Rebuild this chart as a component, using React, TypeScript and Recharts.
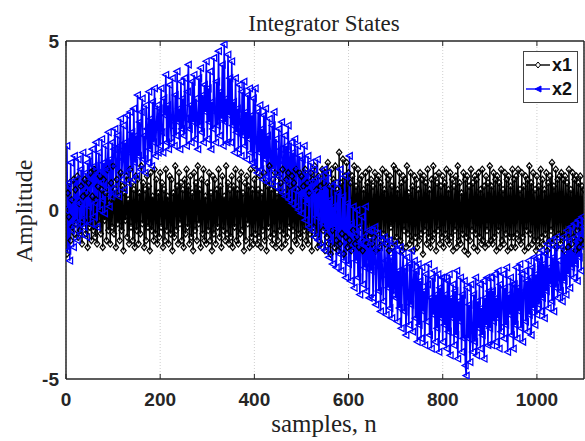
import React from 'react';
import { LineChart, Line, XAxis, YAxis, CartesianGrid, ReferenceLine, Legend } from 'recharts';

const title = 'Integrator States';
const xLabel = 'samples, n';
const yLabel = 'Amplitude';
const seriesNames = ['x1', 'x2'];
const xTicks = [0, 200, 400, 600, 800, 1000];
const yTicks = [-5, 0, 5];
const xDomain = [0, 1100];
const yDomain = [-5, 5];

// sample index n, every 2 samples from 0 to 1100
const sampleIndex: number[] = Array.from({ length: 551 }, (_, i) => i * 2);

const x1Values = [
  0.0, -1.3, 0.5, -0.2, 0.8, -0.9, 0.3, -0.5, 0.9, -0.7, 0.6, -0.4, 1.0, -0.8, 0.2, -0.6, 0.7, -1.0, 0.4, -0.3, 0.9, -0.7, 0.5, -1.1, 0.8,
  -0.5, 1.1, -0.9, 0.4, -0.6, 1.2, -0.8, 0.3, -1.0, 0.7, -0.4, 1.0, -0.7, 0.6, -1.1, 0.9, -0.3, 0.5, -0.9, 1.2, -0.6, 0.2, -1.0, 0.8, -0.5,
  1.3, -0.7, 0.6, -1.1, 0.9, -0.4, 0.4, -0.9, 1.1, -0.6, 0.7, -1.2, 0.5, -0.3, 1.0, -0.8, 0.3, -1.0, 1.2, -0.5, 0.8, -0.9, 0.6, -1.1, 1.0,
  -0.6, 0.9, -1.0, 0.5, -0.7, 1.3, -0.4, 0.8, -1.1, 0.6, -0.9, 1.0, -0.5, 0.7, -1.2, 1.1, -0.6, 0.4, -0.9, 1.2, -0.7, 0.9, -1.0, 0.5, -0.8,
  1.1, -0.5, 0.8, -1.1, 0.6, -0.9, 1.2, -0.6, 0.4, -1.0, 1.0, -0.7, 0.9, -1.2, 0.5, -0.8, 1.3, -0.6, 0.7, -1.0, 1.1, -0.4, 0.8, -0.9, 0.6,
  -1.1, 0.9, -0.7, 1.2, -0.5, 0.7, -1.0, 1.0, -0.8, 0.5, -1.2, 1.1, -0.6, 0.8, -0.9, 1.3, -0.4, 0.6, -1.1, 0.9, -0.7, 1.2, -0.9, 0.4, -1.0,
  0.8, -0.6, 1.1, -0.9, 0.5, -1.2, 1.0, -0.7, 0.9, -1.0, 0.6, -0.5, 1.2, -0.8, 0.7, -1.1, 1.0, -0.6, 0.4, -0.9, 1.3, -0.7, 0.8, -1.0, 0.6,
  -0.8, 1.0, -1.1, 0.7, -0.5, 1.2, -0.9, 0.6, -1.0, 0.9, -0.7, 1.1, -0.6, 0.5, -1.2, 0.8, -0.9, 1.0, -0.4, 0.7, -1.1, 1.2, -0.8, 0.6, -1.0,
  0.9, -0.7, 1.2, -1.0, 0.6, -0.8, 1.0, -1.1, 0.5, -0.6, 1.1, -0.9, 0.8, -1.2, 0.7, -0.5, 1.3, -0.8, 0.6, -1.0, 0.9, -0.7, 1.1, -1.1, 0.5,
  -0.9, 1.0, -0.6, 0.8, -1.1, 1.2, -0.7, 0.5, -1.0, 0.9, -0.8, 1.1, -0.5, 0.7, -1.2, 1.0, -0.6, 0.8, -0.9, 1.2, -1.0, 0.6, -0.7, 1.1, -0.8,
  1.0, -1.1, 0.7, -0.6, 1.2, -0.9, 0.8, -1.0, 0.5, -0.7, 1.1, -1.2, 0.9, -0.5, 1.3, -0.8, 0.6, -1.1, 1.0, -0.9, 0.7, -1.0, 1.2, -0.6, 0.8,
  -1.2, 1.1, -0.8, 1.4, -1.0, 0.7, -1.3, 1.2, -0.6, 0.9, -1.1, 1.3, -0.9, 0.6, -1.2, 1.7, -1.0, 0.8, -0.7, 1.5, -1.3, 1.0, -0.8, 1.4, -1.1,
  1.1, -0.9, 0.8, -1.2, 1.0, -0.6, 1.3, -1.0, 0.7, -0.8, 1.2, -1.1, 0.9, -0.5, 1.0, -1.2, 0.6, -0.9, 1.1, -0.7, 0.8, -1.0, 1.2, -0.8, 0.9,
  -1.0, 0.7, -0.8, 1.1, -1.2, 0.9, -0.6, 1.0, -1.1, 0.8, -0.9, 1.2, -0.7, 0.6, -1.0, 1.1, -0.8, 0.9, -1.2, 1.0, -0.5, 0.7, -1.1, 1.3, -0.9,
  1.2, -0.8, 0.6, -1.0, 1.1, -0.9, 0.8, -1.2, 1.0, -0.6, 0.9, -1.1, 1.3, -0.7, 0.5, -1.0, 1.1, -0.9, 0.7, -1.2, 1.0, -0.8, 0.9, -1.1, 0.6,
  -0.9, 1.1, -0.7, 0.9, -1.3, 1.0, -0.6, 0.8, -1.0, 1.2, -0.8, 0.6, -1.1, 0.9, -0.9, 1.3, -0.7, 1.0, -1.2, 0.8, -0.6, 1.1, -1.0, 0.7, -0.8,
  1.0, -1.1, 0.8, -0.7, 1.2, -0.9, 0.6, -1.0, 1.1, -0.8, 0.9, -1.2, 0.7, -0.6, 1.0, -1.1, 1.3, -0.9, 0.8, -1.0, 0.5, -0.7, 1.1, -1.2, 0.9,
  -0.8, 1.0, -1.3, 0.7, -0.9, 1.2, -0.6, 0.8, -1.1, 1.0, -0.7, 0.9, -1.2, 1.1, -0.8, 0.6, -1.0, 1.2, -0.9, 0.7, -1.1, 1.0, -0.6, 0.8, -1.0,
  1.3, -0.9, 0.7, -1.0, 1.1, -0.8, 0.9, -1.2, 1.0, -0.6, 0.8, -1.1, 1.2, -0.9, 0.6, -1.0, 1.1, -0.7, 0.9, -1.2, 1.0, -0.8, 0.7, -1.1, 1.2,
  -0.8, 0.9, -1.1, 1.0, -0.7, 1.2, -0.9, 0.6, -1.0, 1.1, -0.8, 0.7, -1.2, 1.0, -0.6, 0.9, -1.1, 1.3, -0.7, 0.8, -1.0, 1.1, -0.9, 0.6, -1.2,
  1.0, -0.9, 0.7, -1.1, 1.2, -0.8, 0.9, -1.0, 0.6, -0.7, 1.1, -1.2, 0.8, -0.9, 1.0, -0.6, 1.4, -1.0, 0.7, -0.8, 1.2, -1.1, 0.9, -0.7, 1.0,
  -1.0, 1.1, -0.8, 0.9, -1.2, 1.0, -0.7, 0.8, -1.1, 1.2, -0.9, 0.6, -1.0, 1.1, -0.8, 0.9, -1.2, 1.0, -0.6, 0.8, -1.1, 1.0, -0.9, 0.7, -1.0,
  0.6,
];

const x2Values = [
  0.0, 1.9, -1.2, 0.8, -1.5, 1.4, -0.6, 0.3, -1.1, 1.6, -0.4, 0.9, -0.9, 1.5, 0.2, -0.7, 1.2, -0.3, 1.7, -0.5, 0.6, 1.1, -0.8, 1.4, 0.1,
  1.6, -0.4, 0.9, 1.8, -0.2, 1.3, 0.2, 2.0, -0.5, 1.1, 1.7, 0.0, 0.8, 2.1, 0.3, 1.4, -0.1, 1.9, 0.6, 1.2, 2.3, 0.1, 1.5, 0.4, 2.0,
  0.5, 1.8, 2.4, 0.7, 1.3, 2.2, 0.4, 1.9, 2.7, 0.9, 1.5, 2.5, 0.6, 2.0, 1.1, 2.8, 0.8, 1.7, 2.9, 1.2, 2.3, 0.9, 3.0, 1.4, 2.2,
  1.0, 3.4, 1.6, 2.6, 1.2, 2.9, 3.3, 1.5, 2.2, 1.1, 3.1, 2.4, 1.4, 3.5, 1.8, 2.7, 1.3, 3.2, 2.0, 3.6, 1.6, 2.5, 3.1, 1.7, 3.0,
  1.9, 3.6, 2.3, 1.7, 3.3, 2.8, 4.0, 2.0, 3.1, 1.8, 3.7, 2.5, 2.0, 3.9, 2.7, 1.9, 3.4, 2.2, 4.1, 2.6, 3.0, 1.8, 3.8, 2.4, 3.3,
  2.2, 3.9, 2.7, 1.9, 3.5, 4.3, 2.4, 3.1, 2.0, 3.8, 2.6, 4.0, 2.1, 3.3, 2.8, 1.8, 3.9, 2.5, 4.2, 2.3, 3.4, 2.0, 3.7, 2.9, 4.4,
  2.1, 3.6, 2.6, 4.1, 1.8, 3.2, 2.4, 4.5, 2.9, 2.0, 3.8, 2.5, 4.7, 2.2, 3.5, 2.7, 4.3, 1.9, 4.9, 2.6, 3.3, 2.0, 4.6, 2.8, 3.9,
  2.0, 4.4, 2.5, 3.2, 1.7, 3.9, 2.3, 3.0, 1.8, 3.7, 2.6, 1.6, 3.5, 2.2, 3.8, 1.9, 2.9, 1.5, 3.4, 2.1, 3.6, 1.7, 2.8, 1.4, 3.3,
  1.3, 3.6, 2.0, 1.1, 2.9, 1.7, 3.1, 1.2, 2.4, 0.9, 2.8, 1.5, 3.0, 1.0, 2.2, 0.8, 2.7, 1.6, 0.9, 2.5, 1.2, 2.9, 0.7, 2.1, 1.4,
  1.0, 2.4, 0.6, 1.8, 2.6, 0.5, 1.4, 2.2, 0.4, 1.9, 0.8, 2.5, 0.3, 1.5, 2.0, 0.2, 1.7, 0.6, 2.1, 0.1, 1.3, 1.9, 0.0, 1.6, 0.5,
  -0.1, 1.5, 0.4, 1.9, -0.3, 1.1, 0.2, 1.6, -0.5, 0.8, 1.4, -0.6, 0.5, 1.2, -0.8, 0.9, -0.2, 1.5, -0.9, 0.4, 1.0, -1.1, 0.6, -0.4, 1.2,
  -1.2, 0.9, -0.6, 1.1, -1.4, 0.3, -0.9, 0.7, -1.6, 0.1, -0.5, 0.8, -1.7, -0.2, 0.5, -1.3, 1.2, -1.8, -0.4, 0.4, -1.5, 1.0, -2.0, -0.3, 0.2,
  -1.6, 1.6, -2.1, -0.4, -1.2, 0.1, -2.3, -0.7, -1.5, 0.0, -2.0, -0.5, -2.5, -1.0, -0.2, -2.2, -0.8, -1.7, 0.1, -2.4, -1.1, -0.6, -2.6, -0.9, -1.8,
  -0.6, -2.6, -1.2, -0.5, -2.8, -1.6, -0.7, -2.4, -1.1, -3.0, -0.9, -1.9, -2.7, -0.8, -1.5, -3.1, -1.0, -2.3, -0.9, -2.9, -1.4, -3.2, -1.2, -2.5, -1.0,
  -2.6, -1.2, -3.3, -1.8, -2.9, -1.1, -3.5, -2.0, -1.3, -3.0, -1.7, -3.7, -1.4, -2.5, -3.4, -1.6, -2.8, -1.2, -3.6, -2.1, -1.5, -3.2, -1.8, -3.9, -1.6,
  -3.4, -2.1, -3.8, -1.7, -3.0, -2.4, -4.0, -1.9, -3.3, -2.2, -1.6, -3.7, -2.6, -4.1, -2.0, -3.1, -1.8, -3.9, -2.5, -3.5, -1.9, -4.2, -2.3, -3.2, -2.0,
  -3.9, -2.0, -3.4, -2.5, -4.1, -2.1, -3.6, -1.9, -4.3, -2.6, -3.2, -2.2, -4.0, -2.4, -3.7, -1.8, -4.4, -2.7, -3.3, -2.0, -4.2, -2.5, -3.8, -2.1, -4.6,
  -4.9, -2.3, -3.8, -2.8, -4.5, -2.2, -3.6, -4.2, -2.5, -3.9, -2.0, -4.3, -2.7, -3.5, -2.2, -4.1, -2.9, -3.7, -2.1, -4.4, -2.6, -3.4, -2.0, -4.0, -2.4,
  -3.5, -2.0, -4.0, -2.4, -3.3, -1.9, -3.9, -2.6, -3.2, -1.8, -4.1, -2.2, -3.6, -2.8, -1.9, -3.8, -2.3, -3.4, -1.7, -4.2, -2.5, -3.1, -2.0, -3.7, -2.2,
  -4.1, -2.2, -3.4, -1.7, -3.8, -2.3, -3.0, -1.6, -3.5, -1.9, -3.9, -2.4, -1.8, -3.3, -2.1, -3.6, -1.5, -3.1, -2.0, -3.7, -1.7, -2.9, -1.4, -3.4, -1.9,
  -3.1, -1.4, -2.8, -1.5, -3.0, -1.2, -2.6, -1.6, -3.2, -1.3, -2.4, -1.0, -2.9, -1.7, -2.2, -0.9, -2.7, -1.4, -3.0, -1.1, -2.3, -0.8, -2.6, -1.5, -2.0,
  -2.4, -1.1, -2.7, -0.8, -2.1, -1.3, -2.5, -0.6, -1.9, -0.9, -2.3, -0.5, -1.7, -1.2, -2.0, -0.4, -1.6, -0.8, -2.1, -0.3, -1.4, -0.7, -1.8, -0.2, -1.1,
  -0.5,
];

const data = sampleIndex.map((n, i) => ({ n, x1: x1Values[i], x2: x2Values[i] }));

const W = 585;
const H = 441;
const margin = { top: 40, right: 0, bottom: 61, left: 65 };
const tickFont = '"Liberation Sans", Arial, sans-serif';
const serifFont = '"Liberation Serif", "Times New Roman", serif';
const axisStroke = { stroke: '#262626', strokeWidth: 1.5 };

const Diamond = (props: any) => {
  const { cx, cy, index } = props;
  if (cx == null || cy == null) return <g key={`d${index}`} />;
  return (
    <path
      key={`d${index}`}
      d={`M${cx},${cy - 3.3} L${cx + 2.7},${cy} L${cx},${cy + 3.3} L${cx - 2.7},${cy} Z`}
      fill="none"
      stroke="#000"
      strokeWidth={1.2}
    />
  );
};

const TriLeft = (props: any) => {
  const { cx, cy, index } = props;
  if (cx == null || cy == null) return <g key={`t${index}`} />;
  return (
    <path
      key={`t${index}`}
      d={`M${cx - 3.3},${cy} L${cx + 2.8},${cy - 3.3} L${cx + 2.8},${cy + 3.3} Z`}
      fill="none"
      stroke="#0000ff"
      strokeWidth={1.3}
    />
  );
};

const XTick = (props: any) => {
  const { x, y, payload } = props;
  return (
    <text x={x} y={y + 25} textAnchor="middle" fontFamily={tickFont} fontWeight="bold" fontSize={19} fill="#262626">
      {payload.value}
    </text>
  );
};

const YTick = (props: any) => {
  const { x, y, payload } = props;
  return (
    <text x={x - 5} y={y + 7} textAnchor="end" fontFamily={tickFont} fontWeight="bold" fontSize={19} fill="#262626">
      {payload.value}
    </text>
  );
};

const LegendBox = (props: any) => {
  const { payload } = props;
  const items = (payload || []).filter((p: any) => seriesNames.includes(p.value));
  return (
    <div
      style={{
        border: '1.5px solid #444',
        background: '#fff',
        width: 55,
        height: 52,
        boxSizing: 'border-box',
        paddingTop: 1,
      }}
    >
      {items.map((p: any, i: number) => (
        <div key={p.value} style={{ display: 'flex', alignItems: 'center', height: 24 }}>
          <svg width={26} height={12} style={{ marginLeft: 2 }}>
            <line x1={0} y1={6} x2={24} y2={6} stroke={p.color} strokeWidth={1.4} />
            {i === 0 ? (
              <path d="M12,3 L14.5,6 L12,9 L9.5,6 Z" fill="#fff" stroke={p.color} strokeWidth={1} />
            ) : (
              <path d="M9,6 L15,3 L15,9 Z" fill={p.color} stroke={p.color} strokeWidth={1} />
            )}
          </svg>
          <span style={{ fontFamily: tickFont, fontWeight: 'bold', fontSize: 18, color: '#111', lineHeight: '18px' }}>
            {p.value}
          </span>
        </div>
      ))}
    </div>
  );
};

export default function App() {
  return (
    <div style={{ position: 'absolute', left: 0, top: 0, width: W, height: H, background: '#fff' }}>
      <LineChart width={W} height={H} data={data} margin={margin}>
        <CartesianGrid horizontal={false} stroke="#cfcfcf" strokeDasharray="1 2" />
        <XAxis
          dataKey="n"
          type="number"
          domain={xDomain}
          ticks={xTicks}
          allowDataOverflow
          height={1}
          tickSize={0}
          tickLine={false}
          tick={<XTick />}
          axisLine={axisStroke}
        />
        <XAxis
          xAxisId="top"
          orientation="top"
          dataKey="n"
          type="number"
          domain={xDomain}
          ticks={xTicks}
          height={1}
          tick={false}
          tickLine={false}
          axisLine={axisStroke}
        />
        <YAxis
          type="number"
          domain={yDomain}
          ticks={yTicks}
          allowDataOverflow
          width={1}
          tickSize={0}
          tickLine={false}
          tick={<YTick />}
          axisLine={axisStroke}
        />
        <YAxis
          yAxisId="right"
          orientation="right"
          type="number"
          domain={yDomain}
          width={1}
          tick={false}
          tickLine={false}
          axisLine={axisStroke}
        />
        {xTicks.map((t) => (
          <ReferenceLine
            key={`bt${t}`}
            segment={[{ x: t, y: -5 }, { x: t, y: -4.85 }]}
            stroke="#262626"
            strokeWidth={1}
            ifOverflow="visible"
          />
        ))}
        {xTicks.map((t) => (
          <ReferenceLine
            key={`tt${t}`}
            segment={[{ x: t, y: 5 }, { x: t, y: 4.85 }]}
            stroke="#262626"
            strokeWidth={1}
            ifOverflow="visible"
          />
        ))}
        <Line
          dataKey="x1"
          name="x1"
          stroke="#000000"
          strokeWidth={1.4}
          dot={Diamond}
          activeDot={false}
          isAnimationActive={false}
        />
        <Line
          dataKey="x2"
          name="x2"
          stroke="#0000ff"
          strokeWidth={1.6}
          dot={TriLeft}
          activeDot={false}
          isAnimationActive={false}
        />
        <Legend
          layout="vertical"
          align="center"
          verticalAlign="middle"
          wrapperStyle={{ left: 523, top: 51, width: 55, height: 52 }}
          content={<LegendBox />}
        />
      </LineChart>
      <svg width={W} height={H} style={{ position: 'absolute', left: 0, top: 0, pointerEvents: 'none' }}>
        <text x={324} y={31} textAnchor="middle" fontFamily={serifFont} fontSize={23} fill="#222">
          {title}
        </text>
        <text x={324} y={432} textAnchor="middle" fontFamily={serifFont} fontSize={25} fill="#222">
          {xLabel}
        </text>
        <text
          x={0}
          y={0}
          transform={`translate(32, 211) rotate(-90)`}
          textAnchor="middle"
          fontFamily={serifFont}
          fontSize={24}
          fill="#222"
        >
          {yLabel}
        </text>
      </svg>
    </div>
  );
}
